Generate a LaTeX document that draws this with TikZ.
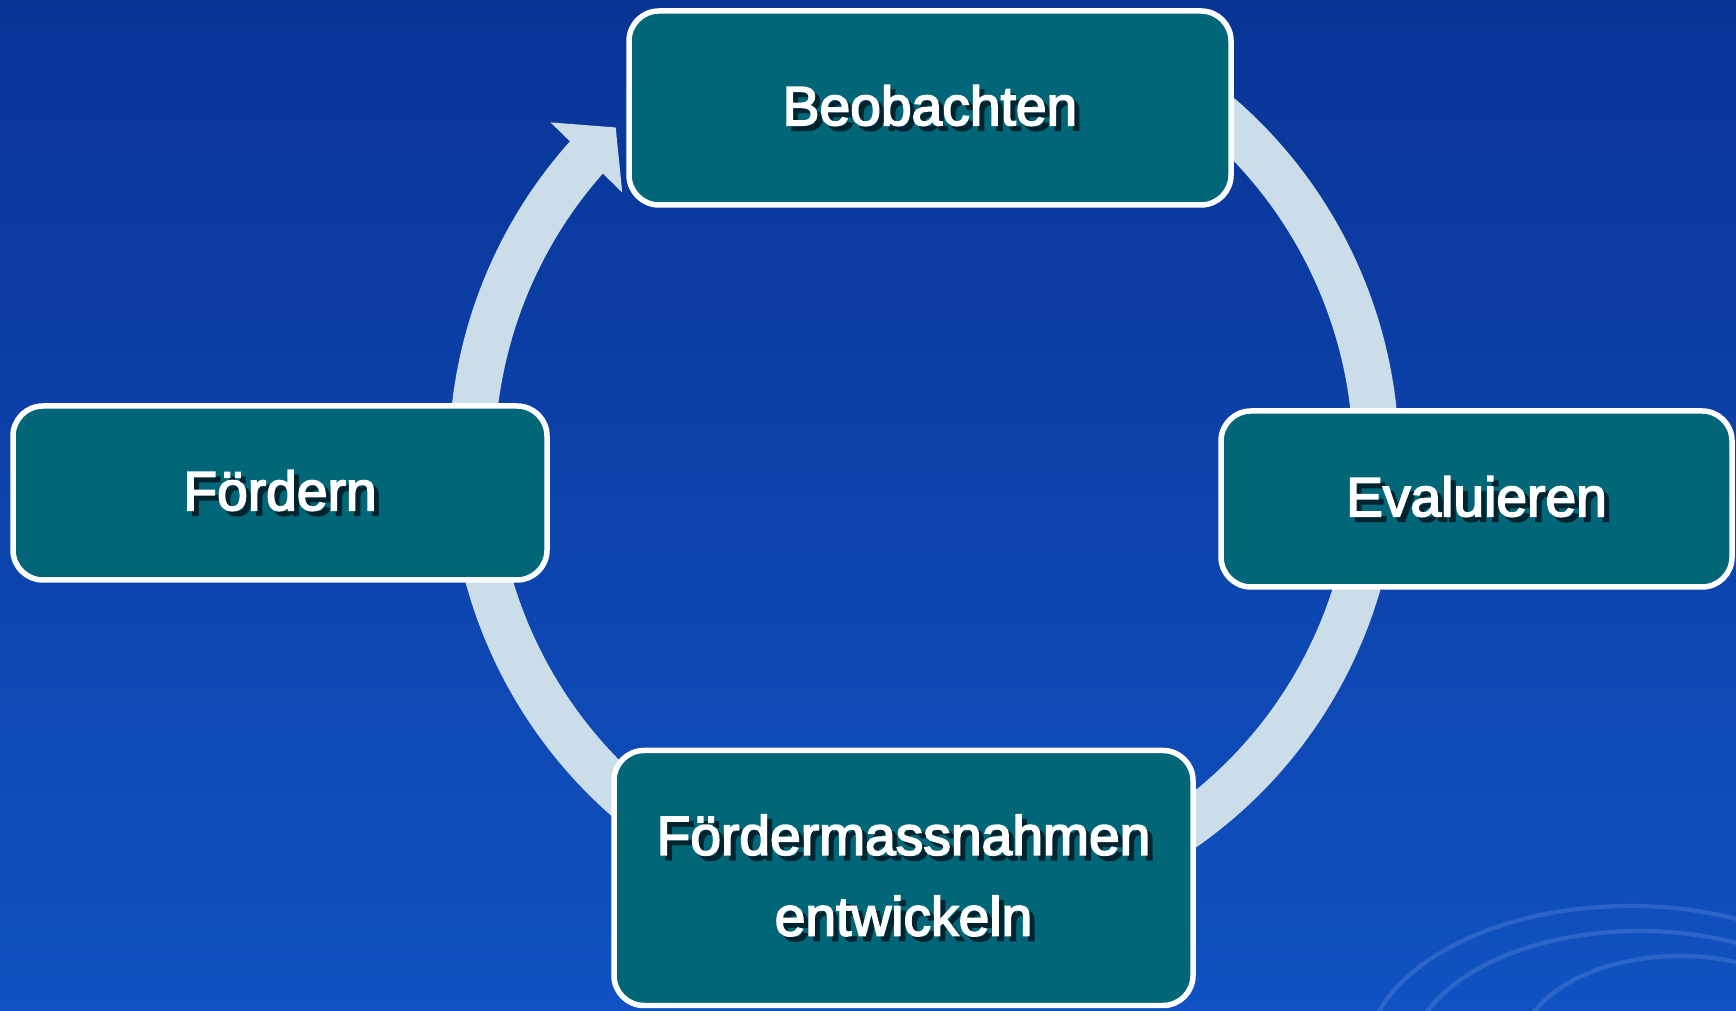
\documentclass[tikz,border=0pt]{standalone}
\usepackage{fontspec}
\setmainfont{Liberation Sans}
\newfontfamily\slidefont{Liberation Sans}[FakeBold=3]
\usetikzlibrary{arrows.meta,bending,positioning}
\definecolor{slideblue}{RGB}{9,52,150}
\definecolor{slidelight}{RGB}{16,82,194}
\definecolor{boxteal}{RGB}{0,102,120}
\definecolor{ringgrey}{RGB}{204,221,234}
\definecolor{txtshadow}{RGB}{0,35,48}
\newcommand{\shtext}[1]{\makebox[0pt][l]{\kern0.05cm\raisebox{-0.05cm}{\color{txtshadow}#1}}#1}
\begin{document}
\begin{tikzpicture}[stage/.style={rectangle, rounded corners=0.3cm, draw=white, line width=0.055cm, fill=boxteal, text=white, font=\slidefont\fontsize{15.7}{23}\selectfont, align=center, inner sep=0pt}, ring/.style={ringgrey, line width=0.46cm, -{Triangle[width=0.98cm, length=0.42cm, flex]}}, ripple/.style={white, opacity=0.12, line width=1.2pt}]
  \useasboundingbox (0,0) rectangle (17.36,10.11);
  \shade[top color=slideblue, bottom color=slidelight] (0,0) rectangle (17.36,10.11);
  % faint ripples, bottom right
  \draw[ripple] (16.3,-0.5) ellipse (2.65 and 1.55);
  \draw[ripple] (16.4,-0.5) ellipse (2.3 and 1.3);
  \draw[ripple] (16.8,-0.4) ellipse (1.6 and 0.95);

  \coordinate (c) at (9.24,5.53);
  \draw[ring] (c) ++(70:4.52) arc (70:-227:4.52);

  \node[stage, minimum width=6.02cm, minimum height=1.94cm] (beob) at (9.30,9.03) {\shtext{Beobachten}};
  \node[stage, minimum width=5.34cm, minimum height=1.74cm] (foerd) at (2.80,5.18) {\shtext{Fördern}};
  \node[stage, minimum width=5.11cm, minimum height=1.76cm] (eval) at (14.765,5.12) {\shtext{Evaluieren}};
  \node[stage, minimum width=5.79cm, minimum height=2.55cm] (mass) at (9.035,1.33) {\shtext{Fördermassnahmen}\\\shtext{entwickeln}};
\end{tikzpicture}
\end{document}
